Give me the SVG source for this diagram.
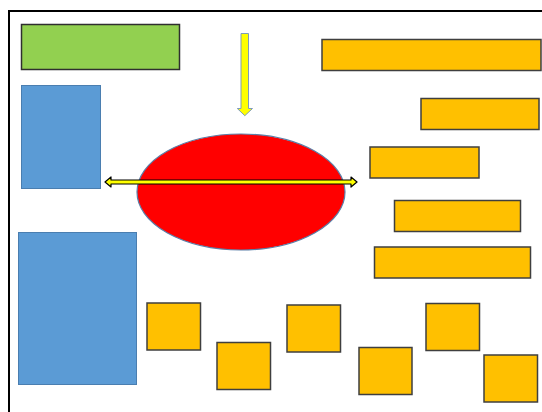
<svg xmlns="http://www.w3.org/2000/svg" width="542" height="412" viewBox="0 0 542 412">
<style>
.org{fill:#FFC000;stroke:#3F3F3F;stroke-width:1.5}
.blue{fill:#5B9BD5;stroke:#4A7EB0;stroke-width:1}
.green{fill:#92D050;stroke:#2F2F2F;stroke-width:1.5}
</style>
<rect width="542" height="412" fill="#fff"/>
<path d="M9,420 V11 H550" fill="none" stroke="#000" stroke-width="2"/>
<g id="green1"><rect class="green" x="21.5" y="24.5" width="158" height="45"/></g>
<g id="blue1"><rect class="blue" x="21.5" y="85.5" width="79" height="103"/></g>
<g id="blue2"><rect class="blue" x="18.5" y="232.5" width="118" height="152"/></g>
<g id="ellipse"><ellipse cx="241" cy="192" rx="104" ry="58" fill="#FF0000" stroke="#5B7FA8" stroke-width="1.2"/></g>
<g id="o1"><rect class="org" x="322" y="39.5" width="219" height="31"/></g>
<g id="o2"><rect class="org" x="421" y="98.5" width="118" height="31"/></g>
<g id="o3"><rect class="org" x="370" y="147" width="109" height="31"/></g>
<g id="o4"><rect class="org" x="394.5" y="200.5" width="126" height="31"/></g>
<g id="o5"><rect class="org" x="374.5" y="247" width="156" height="31"/></g>
<g id="s1"><rect class="org" x="147" y="303" width="53.5" height="47"/></g>
<g id="s2"><rect class="org" x="217" y="342.5" width="53.5" height="47"/></g>
<g id="s3"><rect class="org" x="287" y="305" width="53.5" height="47"/></g>
<g id="s4"><rect class="org" x="359" y="347.5" width="53" height="47"/></g>
<g id="s5"><rect class="org" x="426" y="303.5" width="53.5" height="47"/></g>
<g id="s6"><rect class="org" x="484" y="355" width="53.5" height="47"/></g>
<g id="connectors">
<polygon points="241,33.5 248.5,33.5 248.5,108.5 252.5,108.5 244.8,115.7 237.3,108.5 241,108.5" fill="#FFFF00" stroke="#7F9DB9" stroke-width="1"/>
<polygon points="105,182 111,177 111,180 351,180 351,177 357,182 351,187 351,184 111,184 111,187" fill="#FFFF00" stroke="#000" stroke-width="1.2" stroke-linejoin="round"/>
</g>
</svg>
